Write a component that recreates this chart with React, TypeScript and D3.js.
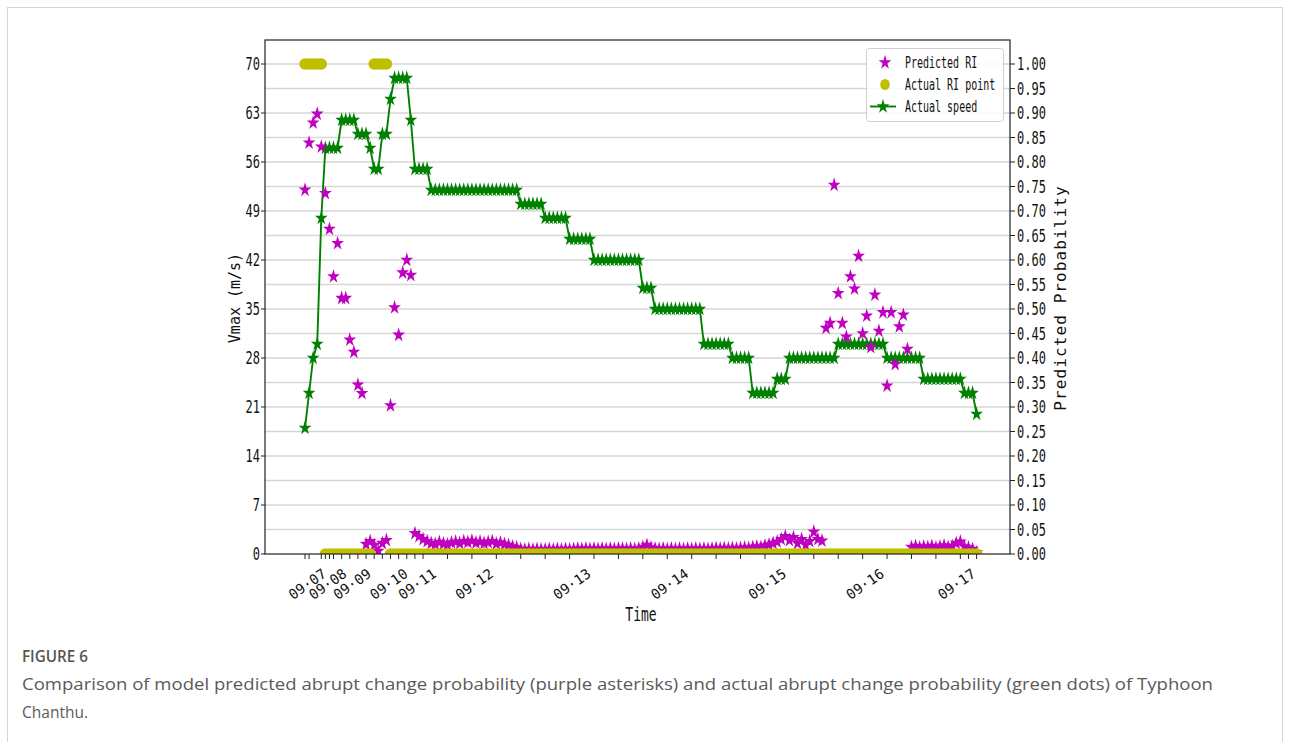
import React, { useEffect, useRef } from 'react';
import * as d3 from 'd3';

// hourly records, Typhoon Chanthu (index = record number)
const speed = [
  18, 23, 28, 30, 48, 58, 58, 58, 58, 62, 62, 62, 62, 60, 60, 60, 58, 55, 55, 60,
  60, 65, 68, 68, 68, 68, 62, 55, 55, 55, 55, 52, 52, 52, 52, 52, 52, 52, 52, 52,
  52, 52, 52, 52, 52, 52, 52, 52, 52, 52, 52, 52, 52, 50, 50, 50, 50, 50, 50, 48,
  48, 48, 48, 48, 48, 45, 45, 45, 45, 45, 45, 42, 42, 42, 42, 42, 42, 42, 42, 42,
  42, 42, 42, 38, 38, 38, 35, 35, 35, 35, 35, 35, 35, 35, 35, 35, 35, 35, 30, 30,
  30, 30, 30, 30, 30, 28, 28, 28, 28, 28, 23, 23, 23, 23, 23, 23, 25, 25, 25, 28,
  28, 28, 28, 28, 28, 28, 28, 28, 28, 28, 28, 30, 30, 30, 30, 30, 30, 30, 30, 30,
  30, 30, 30, 28, 28, 28, 28, 28, 28, 28, 28, 28, 25, 25, 25, 25, 25, 25, 25, 25,
  25, 25, 23, 23, 23, 20,
];

const predProb = [
  0.743, 0.839, 0.880, 0.898, 0.831, 0.736, 0.663, 0.566, 0.634, 0.522, 0.522, 0.437, 0.412, 0.345, 0.328,
  0.020, 0.026, 0.018, 0.006, 0.022, 0.028,
  0.303, 0.503, 0.447, 0.574, 0.600, 0.569,
  0.042, 0.036, 0.030, 0.026,
  0.022, 0.020, 0.024, 0.021, 0.019, 0.023, 0.025, 0.022, 0.026, 0.024, 0.027, 0.023, 0.025, 0.022, 0.024, 0.026,
  0.021, 0.023, 0.020, 0.018, 0.015, 0.013,
  0.010, 0.009, 0.010, 0.009, 0.010, 0.009, 0.009, 0.010, 0.009, 0.010,
  0.009, 0.010, 0.009, 0.010, 0.011, 0.010, 0.011, 0.010, 0.011, 0.010,
  0.011, 0.010, 0.011, 0.010, 0.011, 0.011, 0.010, 0.011, 0.010, 0.011,
  0.014, 0.018, 0.013, 0.011, 0.010, 0.011, 0.010, 0.011, 0.010, 0.011,
  0.010, 0.011, 0.010, 0.011, 0.010, 0.011, 0.010, 0.011, 0.012, 0.011,
  0.012, 0.011, 0.012, 0.011,
  0.012, 0.013, 0.012, 0.014, 0.015, 0.014, 0.017, 0.019, 0.022, 0.025, 0.030,
  0.036, 0.028, 0.034, 0.022, 0.030, 0.018, 0.026, 0.045, 0.030, 0.027,
  0.461, 0.471, 0.753, 0.532, 0.471, 0.443, 0.566, 0.541, 0.608, 0.450, 0.486,
  0.422, 0.529, 0.455, 0.493, 0.343, 0.493, 0.387, 0.464, 0.488, 0.418,
  0.014, 0.016, 0.013, 0.015, 0.014, 0.016, 0.013, 0.015, 0.017, 0.014, 0.016,
  0.022, 0.025, 0.015, 0.013, 0.010, 0.003,
];

// 1 = actual rapid intensification at this record
const actualRI = [
  1, 1, 1, 1, 1, 0, 0, 0, 0, 0, 0, 0, 0, 0, 0, 0, 0, 1, 1, 1,
  1, 0, 0, 0, 0, 0, 0, 0, 0, 0, 0, 0, 0, 0, 0, 0, 0, 0, 0, 0,
  0, 0, 0, 0, 0, 0, 0, 0, 0, 0, 0, 0, 0, 0, 0, 0, 0, 0, 0, 0,
  0, 0, 0, 0, 0, 0, 0, 0, 0, 0, 0, 0, 0, 0, 0, 0, 0, 0, 0, 0,
  0, 0, 0, 0, 0, 0, 0, 0, 0, 0, 0, 0, 0, 0, 0, 0, 0, 0, 0, 0,
  0, 0, 0, 0, 0, 0, 0, 0, 0, 0, 0, 0, 0, 0, 0, 0, 0, 0, 0, 0,
  0, 0, 0, 0, 0, 0, 0, 0, 0, 0, 0, 0, 0, 0, 0, 0, 0, 0, 0, 0,
  0, 0, 0, 0, 0, 0, 0, 0, 0, 0, 0, 0, 0, 0, 0, 0, 0, 0, 0, 0,
  0, 0, 0, 0, 0, 0,
];

const xTickIdx = [0, 1, 4, 5, 6, 7, 9, 11, 13, 15, 17, 19, 21, 23, 25, 27, 29, 35, 41, 47, 53, 59, 65, 71,
  77, 83, 89, 95, 101, 107, 113, 119, 125, 131, 137, 143, 149, 155, 161, 163, 165];
const dateLabels = ['09·07', '09·08', '09·09', '09·10', '09·11', '09·12', '09·13', '09·14', '09·15', '09·16', '09·17'];
const dateIdx = [6, 11, 17, 26, 33, 47, 71, 95, 119, 143, 165.5];
const speedTicks = [0, 7, 14, 21, 28, 35, 42, 49, 56, 63, 70];
const probTicks = d3.range(0, 21).map(k => k * 0.05);

const caption1 = 'FIGURE 6';
const caption2 = 'Comparison of model predicted abrupt change probability (purple asterisks) and actual abrupt change probability (green dots) of Typhoon';
const caption3 = 'Chanthu.';

const MONO = '"DejaVu Sans Mono", monospace';
const PURPLE = '#bf00bf', GREEN = '#008000', YELLOW = '#bfbf00';

export default function App() {
  const ref = useRef<SVGSVGElement>(null);

  useEffect(() => {
    const svg = d3.select(ref.current);
    svg.selectAll('*').remove();

    const left = 265, right = 1010, top = 40, bottom = 554;

    // card
    svg.append('rect').attr('x', 7.5).attr('y', 7.5).attr('width', 1275).attr('height', 760)
      .attr('fill', '#fff').attr('stroke', '#d4d4d4');

    const x = d3.scaleLinear().domain([-9.83, 173.2]).range([left, right]);
    const yL = d3.scaleLinear().domain([0, (bottom - top) / 7]).range([bottom, top]);
    const yR = d3.scaleLinear().domain([0, (bottom - top) / 490]).range([bottom, top]);

    svg.append('clipPath').attr('id', 'plot-clip').append('rect')
      .attr('x', left).attr('y', top).attr('width', right - left).attr('height', bottom - top);

    // grid
    svg.append('g').selectAll('line').data(probTicks.slice(1)).enter().append('line')
      .attr('x1', left).attr('x2', right)
      .attr('y1', d => yR(d)).attr('y2', d => yR(d))
      .attr('stroke', '#d6d6d6').attr('stroke-width', 1.6);

    const plot = svg.append('g').attr('clip-path', 'url(#plot-clip)');
    const star = d3.symbol().type(d3.symbolStar).size(50)();

    // actual speed (left axis)
    const line = d3.line<number>().x((d, i) => x(i)).y(d => yL(d));
    plot.append('path').datum(speed).attr('d', line)
      .attr('fill', 'none').attr('stroke', GREEN).attr('stroke-width', 1.9);
    plot.append('g').selectAll('path').data(speed).enter().append('path')
      .attr('d', star)
      .attr('transform', (d, i) => 'translate(' + x(i) + ',' + yL(d) + ') scale(1,1.15)')
      .attr('fill', GREEN);

    // predicted RI probability (right axis)
    plot.append('g').selectAll('path').data(predProb).enter().append('path')
      .attr('d', star)
      .attr('transform', (d, i) => 'translate(' + x(i) + ',' + yR(d) + ') scale(1,1.15)')
      .attr('fill', PURPLE);

    // actual RI points
    plot.append('g').selectAll('circle').data(actualRI).enter().append('circle')
      .attr('cx', (d, i) => x(i)).attr('cy', d => yR(d)).attr('r', 5.8)
      .attr('fill', YELLOW);

    // frame
    svg.append('rect').attr('x', left).attr('y', top).attr('width', right - left).attr('height', bottom - top)
      .attr('fill', 'none').attr('stroke', '#222').attr('stroke-width', 1.2);

    // left axis
    const gl = svg.append('g');
    gl.selectAll('line').data(speedTicks).enter().append('line')
      .attr('x1', left - 4).attr('x2', left).attr('y1', d => yL(d)).attr('y2', d => yL(d))
      .attr('stroke', '#222');
    gl.selectAll('text').data(speedTicks).enter().append('text')
      .attr('transform', d => 'translate(' + (left - 5) + ',' + yL(d) + ') scale(1,1.5)')
      .attr('dy', 4.3).attr('text-anchor', 'end')
      .style('font-family', MONO).style('font-size', '12px').attr('fill', '#111')
      .text(d => d);

    // right axis
    const gr = svg.append('g');
    gr.selectAll('line').data(probTicks).enter().append('line')
      .attr('x1', right).attr('x2', right + 5).attr('y1', d => yR(d)).attr('y2', d => yR(d))
      .attr('stroke', '#222');
    gr.selectAll('text').data(probTicks).enter().append('text')
      .attr('transform', d => 'translate(' + (right + 7) + ',' + yR(d) + ') scale(1,1.5)')
      .attr('dy', 4.3)
      .style('font-family', MONO).style('font-size', '12px').attr('fill', '#111')
      .text(d => d.toFixed(2));

    // bottom axis
    const gb = svg.append('g');
    gb.selectAll('line').data(xTickIdx).enter().append('line')
      .attr('x1', d => x(d)).attr('x2', d => x(d)).attr('y1', bottom).attr('y2', bottom + 5)
      .attr('stroke', '#222');
    gb.selectAll('text').data(dateLabels).enter().append('text')
      .attr('transform', (d, i) => 'translate(' + (x(dateIdx[i]) - 2) + ',' + 576 + ') rotate(-35)')
      .attr('text-anchor', 'end')
      .style('font-family', MONO).style('font-size', '14px').attr('fill', '#111')
      .text(d => d);

    // axis titles
    svg.append('text').attr('transform', 'translate(240,298) rotate(-90)')
      .attr('text-anchor', 'middle')
      .style('font-family', MONO).style('font-size', '15px').attr('fill', '#111')
      .text('Vmax (m/s)');
    svg.append('text').attr('transform', 'translate(1066,298) rotate(-90)')
      .attr('text-anchor', 'middle')
      .style('font-family', MONO).style('font-size', '16px').style('letter-spacing', '1.1px').attr('fill', '#111')
      .text('Predicted Probability');
    svg.append('text').attr('transform', 'translate(641,607) scale(1,1.5)')
      .attr('text-anchor', 'middle').attr('dy', 9.5)
      .style('font-family', MONO).style('font-size', '13px').attr('fill', '#111')
      .text('Time');

    // legend
    const lg = svg.append('g');
    lg.append('rect').attr('x', 866.5).attr('y', 48.5).attr('width', 137).attr('height', 73).attr('rx', 3)
      .attr('fill', '#fff').attr('fill-opacity', 0.85).attr('stroke', '#cfcfcf');
    const items = ['Predicted RI', 'Actual RI point', 'Actual speed'];
    const ly = [62.5, 84.5, 106.5];
    lg.append('path').attr('d', star).attr('transform', 'translate(885,' + ly[0] + ') scale(1,1.15)').attr('fill', PURPLE);
    lg.append('ellipse').attr('cx', 885).attr('cy', ly[1]).attr('rx', 4.8).attr('ry', 5.5).attr('fill', YELLOW);
    lg.append('line').attr('x1', 870).attr('x2', 896).attr('y1', ly[2]).attr('y2', ly[2])
      .attr('stroke', GREEN).attr('stroke-width', 1.9);
    lg.append('path').attr('d', star).attr('transform', 'translate(883,' + ly[2] + ') scale(1,1.15)').attr('fill', GREEN);
    lg.selectAll('text').data(items).enter().append('text')
      .attr('transform', (d, i) => 'translate(905,' + ly[i] + ') scale(1,1.5)')
      .attr('dy', 3.5)
      .style('font-family', MONO).style('font-size', '10px').attr('fill', '#111')
      .text(d => d);

    // caption
    svg.append('text').attr('x', 22).attr('y', 662)
      .attr('textLength', 66).attr('lengthAdjust', 'spacingAndGlyphs')
      .style('font-family', '"Open Sans", sans-serif').style('font-size', '16px').style('font-weight', 600)
      .attr('fill', '#555').text(caption1);
    svg.append('text').attr('x', 22).attr('y', 690)
      .attr('textLength', 1191).attr('lengthAdjust', 'spacingAndGlyphs')
      .style('font-family', '"Open Sans", sans-serif').style('font-size', '17px')
      .attr('fill', '#5a5a5a').text(caption2);
    svg.append('text').attr('x', 22).attr('y', 718)
      .attr('textLength', 66).attr('lengthAdjust', 'spacingAndGlyphs')
      .style('font-family', '"Open Sans", sans-serif').style('font-size', '17px')
      .attr('fill', '#5a5a5a').text(caption3);
  }, []);

  return (
    <svg ref={ref} width={1290} height={742}
      style={{ position: 'absolute', left: 0, top: 0, background: '#fff' }} />
  );
}
